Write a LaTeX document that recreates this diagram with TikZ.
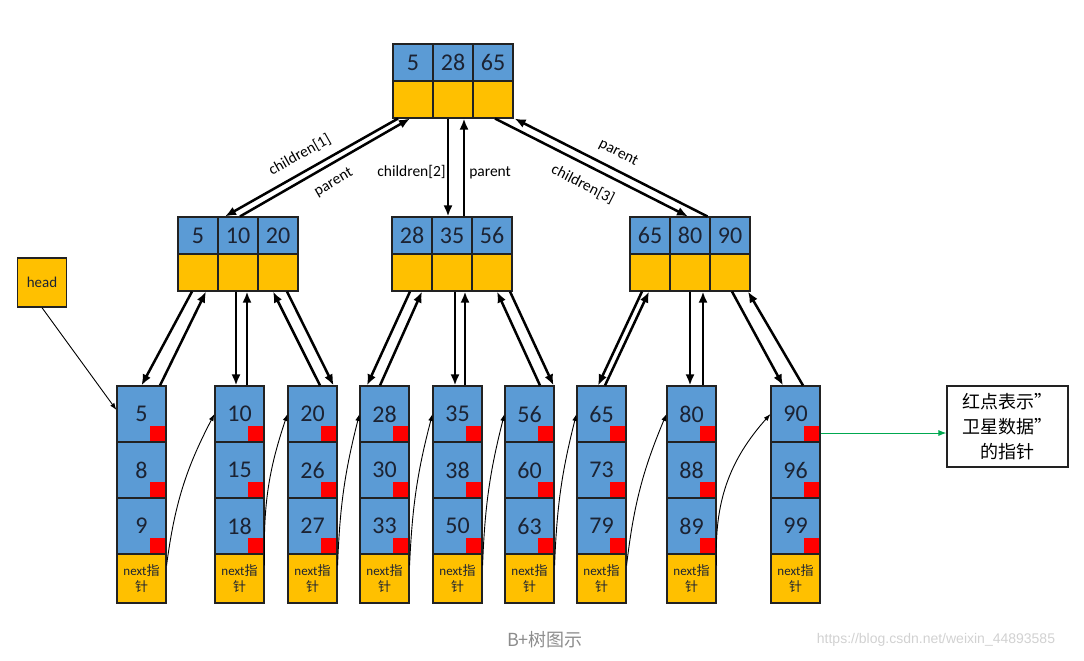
\documentclass[tikz,border=0pt]{standalone}
\usepackage{fontspec}
\setmainfont{Carlito}
\newfontfamily\cjk{Noto Sans CJK SC}
\newfontfamily\wmfont{Liberation Sans}
\usetikzlibrary{positioning, arrows.meta}
\definecolor{keyblue}{HTML}{5B9BD5}
\definecolor{ptryellow}{HTML}{FFC000}
\definecolor{dotred}{HTML}{FF0000}
\definecolor{cellline}{HTML}{222222}
\definecolor{numcol}{HTML}{1C2333}
\definecolor{linkgreen}{HTML}{00A850}

\begin{document}
\begin{tikzpicture}[x=1pt,y=-1pt,on grid,node distance=37pt and 40pt,
   key/.style={draw=cellline,line width=1.1pt,fill=keyblue,minimum width=40pt,minimum height=37pt,
      inner sep=0pt,text=numcol,font=\fontsize{24}{24}\selectfont},
   ptr/.style={key,fill=ptryellow},
   leafkey/.style={key,minimum width=49pt,minimum height=56pt,
      path picture={\fill[dotred] ([shift={(-16pt,16pt)}]path picture bounding box.south east)
         rectangle (path picture bounding box.south east);}},
   leafnext/.style={draw=cellline,line width=1.1pt,fill=ptryellow,minimum width=49pt,minimum height=49pt,
      inner sep=0pt,align=center,text=numcol,font=\fontsize{13}{16}\selectfont},
   headbox/.style={draw=cellline,line width=1.4pt,fill=ptryellow,minimum size=49pt,inner sep=0pt,
      text=numcol,font=\fontsize{15}{15}\selectfont},
   notebox/.style={draw=cellline,line width=1.1pt,fill=white,minimum width=121pt,minimum height=81pt,
      inner sep=2pt,align=center,font=\cjk\fontsize{18}{25}\selectfont},
   link/.style={line width=2.5pt,-{Latex[length=11pt,width=9pt]}},
   nextptr/.style={line width=0.9pt,-{Latex[length=7pt,width=5pt]}},
   greenptr/.style={linkgreen,line width=1pt,-{Latex[length=8pt,width=6pt]}},
   lbl/.style={font=\fontsize{15.5}{15.5}\selectfont,inner sep=1pt}]
   \useasboundingbox (0,0) rectangle (1084,661);

   % root
   \node[key] (r1) at (413,62.5) {5};
   \node[key] (r2) [right=of r1] {28};
   \node[key] (r3) [right=of r2] {65};
   \node[ptr] (rp1) [below=of r1] {};
   \node[ptr] (rp2) [below=of r2] {};
   \node[ptr] (rp3) [below=of r3] {};

   % middle level
   \node[key] (a1) at (198,235.5) {5};
   \node[key] (a2) [right=of a1] {10};
   \node[key] (a3) [right=of a2] {20};
   \node[ptr] (ap1) [below=of a1] {};
   \node[ptr] (ap2) [below=of a2] {};
   \node[ptr] (ap3) [below=of a3] {};

   \node[key] (b1) at (412,235.5) {28};
   \node[key] (b2) [right=of b1] {35};
   \node[key] (b3) [right=of b2] {56};
   \node[ptr] (bp1) [below=of b1] {};
   \node[ptr] (bp2) [below=of b2] {};
   \node[ptr] (bp3) [below=of b3] {};

   \node[key] (c1) at (650,235.5) {65};
   \node[key] (c2) [right=of c1] {80};
   \node[key] (c3) [right=of c2] {90};
   \node[ptr] (cp1) [below=of c1] {};
   \node[ptr] (cp2) [below=of c2] {};
   \node[ptr] (cp3) [below=of c3] {};

   % leaves
   \node[leafkey] (l1a) at (141.5,414) {5};
   \node[leafkey] (l1b) [below=56pt of l1a] {8};
   \node[leafkey] (l1c) [below=56pt of l1b] {9};
   \node[leafnext] (l1n) [below=52.5pt of l1c] {next{\cjk 指}\\{\cjk 针}};

   \node[leafkey] (l2a) at (239.5,414) {10};
   \node[leafkey] (l2b) [below=56pt of l2a] {15};
   \node[leafkey] (l2c) [below=56pt of l2b] {18};
   \node[leafnext] (l2n) [below=52.5pt of l2c] {next{\cjk 指}\\{\cjk 针}};

   \node[leafkey] (l3a) at (312.5,414) {20};
   \node[leafkey] (l3b) [below=56pt of l3a] {26};
   \node[leafkey] (l3c) [below=56pt of l3b] {27};
   \node[leafnext] (l3n) [below=52.5pt of l3c] {next{\cjk 指}\\{\cjk 针}};

   \node[leafkey] (l4a) at (384.5,414) {28};
   \node[leafkey] (l4b) [below=56pt of l4a] {30};
   \node[leafkey] (l4c) [below=56pt of l4b] {33};
   \node[leafnext] (l4n) [below=52.5pt of l4c] {next{\cjk 指}\\{\cjk 针}};

   \node[leafkey] (l5a) at (457.5,414) {35};
   \node[leafkey] (l5b) [below=56pt of l5a] {38};
   \node[leafkey] (l5c) [below=56pt of l5b] {50};
   \node[leafnext] (l5n) [below=52.5pt of l5c] {next{\cjk 指}\\{\cjk 针}};

   \node[leafkey] (l6a) at (529.5,414) {56};
   \node[leafkey] (l6b) [below=56pt of l6a] {60};
   \node[leafkey] (l6c) [below=56pt of l6b] {63};
   \node[leafnext] (l6n) [below=52.5pt of l6c] {next{\cjk 指}\\{\cjk 针}};

   \node[leafkey] (l7a) at (601.5,414) {65};
   \node[leafkey] (l7b) [below=56pt of l7a] {73};
   \node[leafkey] (l7c) [below=56pt of l7b] {79};
   \node[leafnext] (l7n) [below=52.5pt of l7c] {next{\cjk 指}\\{\cjk 针}};

   \node[leafkey] (l8a) at (691.5,414) {80};
   \node[leafkey] (l8b) [below=56pt of l8a] {88};
   \node[leafkey] (l8c) [below=56pt of l8b] {89};
   \node[leafnext] (l8n) [below=52.5pt of l8c] {next{\cjk 指}\\{\cjk 针}};

   \node[leafkey] (l9a) at (795.5,414) {90};
   \node[leafkey] (l9b) [below=56pt of l9a] {96};
   \node[leafkey] (l9c) [below=56pt of l9b] {99};
   \node[leafnext] (l9n) [below=52.5pt of l9c] {next{\cjk 指}\\{\cjk 针}};

   \node[headbox] (head) at (42,282.5) {head};
   \node[notebox] (note) at (1007.5,426.5) {红点表示”\\卫星数据”\\的指针};

   \node[font=\cjk\fontsize{18}{18}\selectfont,text=black!45] (cap) at (545,640) {B+树图示};
   \node[font=\wmfont\fontsize{14}{14}\selectfont,text=black!18] (wm) at (936,640) {https://blog.csdn.net/weixin\_44893585};

   % root <-> middle
   \draw[link] ([xshift=-15pt]rp1.south) -- node[lbl,sloped,above=8pt,pos=0.52] {children[1]} ([xshift=-13pt]a2.north);
   \draw[link] ([xshift=2pt]a2.north) -- node[lbl,sloped,below=9pt,pos=0.5] {parent} ([xshift=-3pt]rp1.south);
   \draw[link] ([xshift=-5pt]rp2.south) -- node[lbl,left,pos=0.55] {children[2]} ([xshift=-5pt]rp2.south |- b2.north);
   \draw[link] ([xshift=11pt]rp2.south |- b2.north) -- node[lbl,right=3pt,pos=0.45] {parent} ([xshift=11pt]rp2.south);
   \draw[link] ([xshift=2pt]rp3.south) -- node[lbl,sloped,below=10pt,pos=0.5] {children[3]} ([xshift=-2pt]c2.north);
   \draw[link] ([xshift=-2pt]c3.north west) -- node[lbl,sloped,above=8pt,pos=0.5] {parent} ([xshift=1pt]rp3.south east);

   % middle <-> leaves
   \draw[link] ([xshift=-6pt]ap1.south) -- (l1a.north);
   \draw[link] ([xshift=18.5pt]l1a.north) -- ([xshift=8pt]ap1.south);
   \draw[link] ([xshift=-2pt]ap2.south) -- ([xshift=-2pt]ap2.south |- l2a.north);
   \draw[link] ([xshift=9pt]ap2.south |- l2a.north) -- ([xshift=9pt]ap2.south);
   \draw[link] ([xshift=7.5pt]l3a.north) -- ([xshift=-5pt]ap3.south);
   \draw[link] ([xshift=9pt]ap3.south) -- ([xshift=-4pt]l3a.north east);

   \draw[link] ([xshift=-2pt]bp1.south) -- ([xshift=-17.5pt]l4a.north);
   \draw[link] ([xshift=-4.5pt]l4a.north) -- ([xshift=10pt]bp1.south);
   \draw[link] ([xshift=3pt]bp2.south) -- ([xshift=3pt]bp2.south |- l5a.north);
   \draw[link] ([xshift=13pt]bp2.south |- l5a.north) -- ([xshift=13pt]bp2.south);
   \draw[link] ([xshift=10.5pt]l6a.north) -- ([xshift=5pt]bp3.south);
   \draw[link] ([xshift=18pt]bp3.south) -- ([xshift=-1pt]l6a.north east);

   \draw[link] ([xshift=-8pt]cp1.south) -- ([xshift=-3.5pt]l7a.north);
   \draw[link] ([xshift=3.5pt]l7a.north) -- ([xshift=-1pt]cp1.south);
   \draw[link] (cp2.south) -- (cp2.south |- l8a.north);
   \draw[link] ([xshift=13pt]cp2.south |- l8a.north) -- ([xshift=13pt]cp2.south);
   \draw[link] ([xshift=2pt]cp3.south) -- ([xshift=-12.5pt]l9a.north);
   \draw[link] ([xshift=7.5pt]l9a.north) -- ([xshift=18pt]cp3.south);

   % head and next pointers
   \draw[nextptr] (head.south) -- ([yshift=4pt]l1a.west);
   \draw[nextptr] ([yshift=-12pt]l1n.north east) to[bend left=10] (l2a.west);
   \draw[nextptr] ([yshift=-12pt]l2n.north east) to[bend left=10] (l3a.west);
   \draw[nextptr] ([yshift=-12pt]l3n.north east) to[bend left=6] (l4a.west);
   \draw[nextptr] ([yshift=-12pt]l4n.north east) to[bend left=6] (l5a.west);
   \draw[nextptr] ([yshift=-12pt]l5n.north east) to[bend left=6] (l6a.west);
   \draw[nextptr] ([yshift=-12pt]l6n.north east) to[bend left=6] (l7a.west);
   \draw[nextptr] ([yshift=-12pt]l7n.north east) to[bend left=8] (l8a.west);
   \draw[nextptr] ([yshift=-12pt]l8n.north east) to[bend left=22] (l9a.west);

   \draw[greenptr] ([yshift=-19pt]l9a.east) -- ([yshift=-19pt]l9a.east -| note.west);
\end{tikzpicture}
\end{document}
